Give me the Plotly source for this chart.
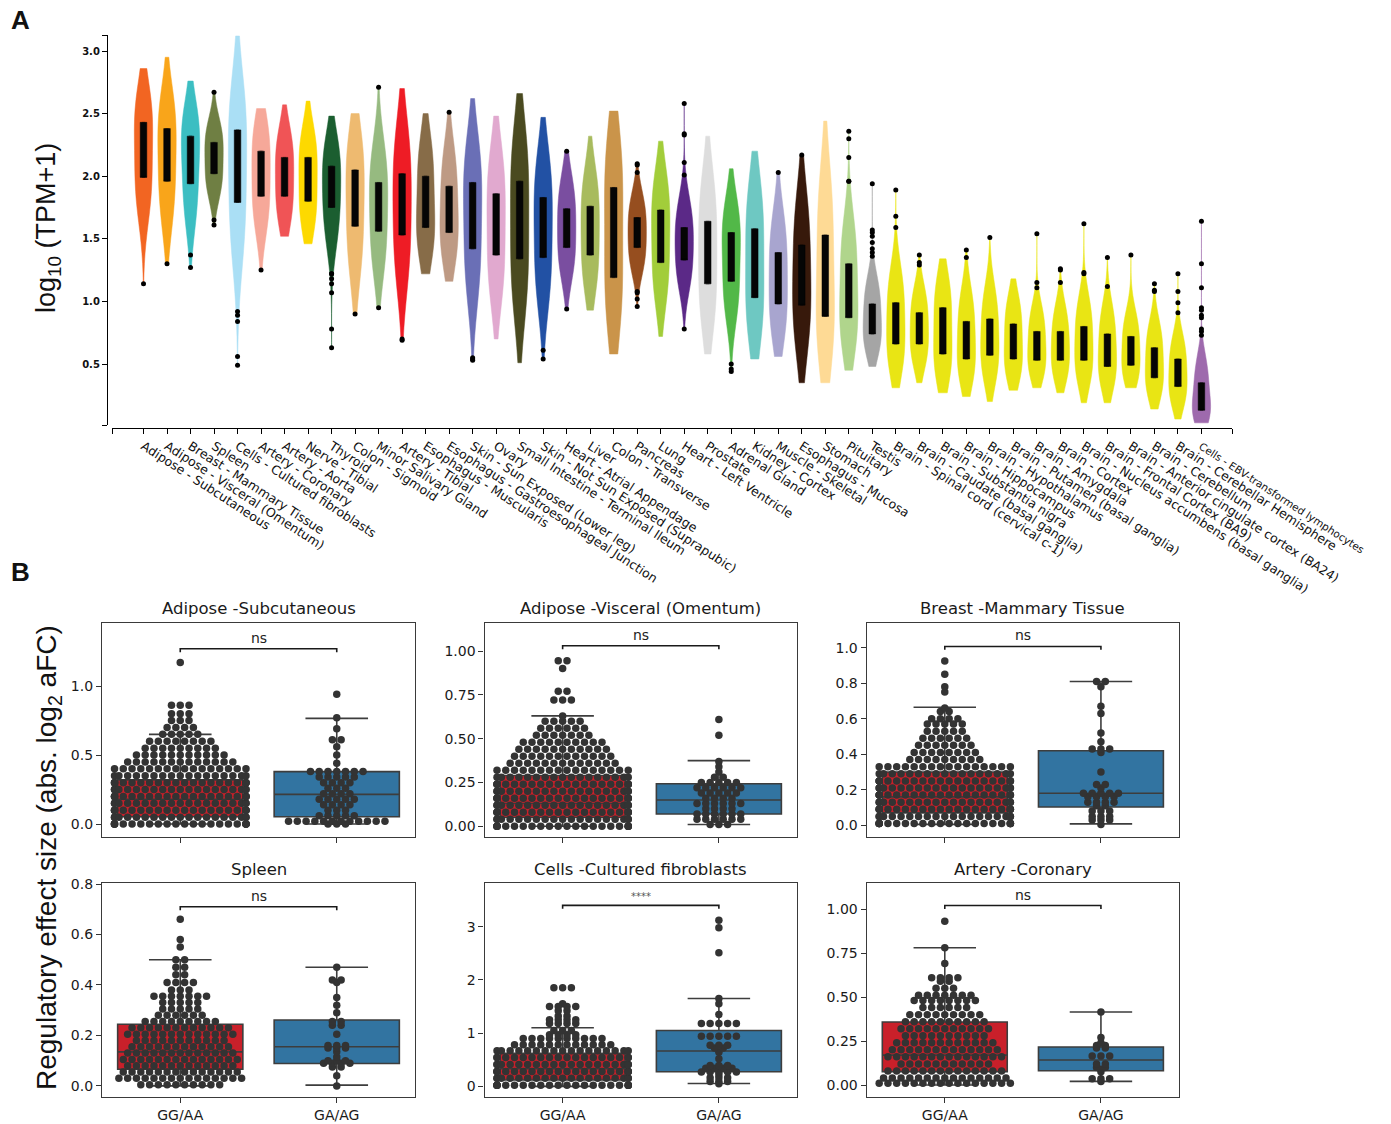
import numpy as np
import plotly.graph_objects as go

W, H = 1391, 1124

# ---------------- Panel A data ----------------
tissues = [
    "Adipose - Subcutaneous", "Adipose - Visceral (Omentum)", "Breast - Mammary Tissue", "Spleen",
    "Cells - Cultured fibroblasts", "Artery - Coronary", "Artery - Aorta", "Nerve - Tibial", "Thyroid",
    "Colon - Sigmoid", "Minor Salivary Gland", "Artery - Tibial", "Esophagus - Muscularis",
    "Esophagus - Gastroesophageal Junction", "Skin - Sun Exposed (Lower leg)", "Ovary",
    "Small Intestine - Terminal Ileum", "Skin - Not Sun Exposed (Suprapubic)", "Heart - Atrial Appendage",
    "Liver", "Colon - Transverse", "Pancreas", "Lung", "Heart - Left Ventricle", "Prostate",
    "Adrenal Gland", "Kidney - Cortex", "Muscle - Skeletal", "Esophagus - Mucosa", "Stomach",
    "Pituitary", "Testis", "Brain - Spinal cord (cervical c-1)", "Brain - Caudate (basal ganglia)",
    "Brain - Substantia nigra", "Brain - Hippocampus", "Brain - Hypothalamus",
    "Brain - Putamen (basal ganglia)", "Brain - Amygdala", "Brain - Cortex",
    "Brain - Nucleus accumbens (basal ganglia)", "Brain - Frontal Cortex (BA9)",
    "Brain - Anterior cingulate cortex (BA24)", "Brain - Cerebellum", "Brain - Cerebellar Hemisphere",
    "Cells - EBV-transformed lymphocytes",
]

tissue_colors = [
    "#F26522", "#F9A51A", "#3CBEC2", "#6F7F43", "#AADFF5", "#F6A899", "#F05456", "#FDD900",
    "#1B5E30", "#EEBA70", "#96BA80", "#EE1C25", "#876C48", "#BE9A84", "#6A6FB6", "#E1A9CF",
    "#4A4A20", "#2251A4", "#7A4EA0", "#A8BB5E", "#CA944A", "#964E1F", "#A2CD3A", "#5B2987",
    "#DDDDDD", "#52B848", "#6EC8C2", "#A8A5CF", "#37190B", "#FEDA95", "#B0D58C", "#A5A5A5",
    "#E9E514", "#E9E514", "#E9E514", "#E9E514", "#E9E514", "#E9E514", "#E9E514", "#E9E514",
    "#E9E514", "#E9E514", "#E9E514", "#E9E514", "#E9E514", "#9E6AAD",
]

# estimated quantiles of log10(TPM+1) per tissue (read from violin shapes)
tissue_samples = [
    [1.70, 1.90, 1.99, 2.22, 2.43, 2.52, 2.64],
    [1.62, 1.85, 1.96, 2.18, 2.38, 2.48, 2.62],
    [1.62, 1.84, 1.94, 2.18, 2.32, 2.40, 2.52],
    [1.85, 1.96, 2.02, 2.15, 2.27, 2.32, 2.42],
    [1.35, 1.65, 1.79, 2.10, 2.37, 2.48, 2.70],
    [1.58, 1.75, 1.84, 2.02, 2.20, 2.30, 2.42],
    [1.62, 1.76, 1.84, 2.00, 2.15, 2.22, 2.35],
    [1.58, 1.72, 1.80, 1.98, 2.15, 2.22, 2.35],
    [1.45, 1.65, 1.75, 1.90, 2.08, 2.15, 2.28],
    [1.22, 1.45, 1.60, 1.82, 2.05, 2.15, 2.32],
    [1.25, 1.45, 1.56, 1.80, 1.95, 2.05, 2.25],
    [1.15, 1.40, 1.53, 1.80, 2.02, 2.15, 2.38],
    [1.38, 1.50, 1.59, 1.75, 2.00, 2.10, 2.28],
    [1.32, 1.46, 1.55, 1.70, 1.92, 2.02, 2.22],
    [1.05, 1.30, 1.42, 1.72, 1.95, 2.05, 2.25],
    [1.05, 1.25, 1.37, 1.65, 1.86, 1.98, 2.18],
    [0.95, 1.20, 1.34, 1.65, 1.96, 2.10, 2.32],
    [1.00, 1.22, 1.35, 1.62, 1.83, 1.95, 2.15],
    [1.22, 1.35, 1.43, 1.60, 1.74, 1.82, 1.98],
    [1.10, 1.28, 1.37, 1.58, 1.76, 1.85, 2.02],
    [0.85, 1.05, 1.19, 1.58, 1.91, 2.05, 2.28],
    [1.25, 1.36, 1.43, 1.55, 1.67, 1.72, 1.85],
    [1.02, 1.20, 1.31, 1.55, 1.73, 1.82, 2.00],
    [1.12, 1.25, 1.33, 1.48, 1.59, 1.66, 1.82],
    [0.82, 1.02, 1.14, 1.40, 1.64, 1.75, 1.98],
    [0.90, 1.06, 1.16, 1.40, 1.55, 1.62, 1.78],
    [0.75, 0.92, 1.03, 1.32, 1.58, 1.70, 1.92],
    [0.72, 0.88, 0.98, 1.18, 1.39, 1.48, 1.68],
    [0.62, 0.85, 0.97, 1.15, 1.45, 1.58, 1.82],
    [0.58, 0.76, 0.88, 1.15, 1.53, 1.70, 1.98],
    [0.62, 0.78, 0.87, 1.05, 1.30, 1.42, 1.62],
    [0.60, 0.68, 0.74, 0.85, 0.98, 1.05, 1.18],
    [0.45, 0.58, 0.66, 0.82, 0.99, 1.08, 1.25],
    [0.50, 0.60, 0.66, 0.78, 0.91, 0.97, 1.10],
    [0.40, 0.50, 0.58, 0.76, 0.95, 1.03, 1.18],
    [0.37, 0.47, 0.54, 0.68, 0.84, 0.92, 1.08],
    [0.38, 0.50, 0.57, 0.70, 0.86, 0.94, 1.10],
    [0.40, 0.48, 0.54, 0.68, 0.82, 0.90, 1.02],
    [0.40, 0.48, 0.53, 0.64, 0.76, 0.83, 0.95],
    [0.38, 0.47, 0.53, 0.64, 0.76, 0.83, 0.96],
    [0.36, 0.46, 0.53, 0.66, 0.80, 0.88, 1.02],
    [0.33, 0.42, 0.48, 0.60, 0.74, 0.82, 0.96],
    [0.36, 0.44, 0.49, 0.60, 0.72, 0.78, 0.90],
    [0.25, 0.33, 0.39, 0.50, 0.63, 0.70, 0.82],
    [0.18, 0.26, 0.32, 0.42, 0.54, 0.60, 0.72],
    [0.06, 0.10, 0.13, 0.22, 0.35, 0.42, 0.55],
]

# violin extent (bottom tip, top tip)
tissue_spans = [
    [1.14, 2.86], [1.30, 2.95], [1.27, 2.76], [1.61, 2.67], [0.49, 3.12], [1.25, 2.54],
    [1.52, 2.57], [1.46, 2.60], [0.63, 2.48], [0.90, 2.50], [0.95, 2.71], [0.69, 2.70],
    [1.22, 2.50], [1.16, 2.51], [0.53, 2.62], [0.70, 2.48], [0.51, 2.66], [0.54, 2.47],
    [0.94, 2.20], [0.93, 2.32], [0.58, 2.52], [0.96, 2.10], [0.72, 2.28], [0.78, 2.58],
    [0.58, 2.32], [0.44, 2.06], [0.54, 2.20], [0.56, 2.03], [0.35, 2.17], [0.35, 2.44],
    [0.45, 2.36], [0.48, 1.94], [0.31, 1.89], [0.35, 1.37], [0.27, 1.34], [0.24, 1.41],
    [0.20, 1.51], [0.29, 1.18], [0.31, 1.54], [0.27, 1.26], [0.19, 1.62], [0.19, 1.35],
    [0.31, 1.37], [0.14, 1.14], [0.06, 1.22], [0.03, 1.64],
]

tissue_q1 = [1.99, 1.96, 1.94, 2.02, 1.79, 1.84, 1.84, 1.80, 1.75, 1.60, 1.56, 1.53, 1.59, 1.55,
             1.42, 1.37, 1.34, 1.35, 1.43, 1.37, 1.19, 1.43, 1.31, 1.33, 1.14, 1.16, 1.03, 0.98,
             0.97, 0.88, 0.87, 0.74, 0.66, 0.66, 0.58, 0.54, 0.57, 0.54, 0.53, 0.53, 0.53, 0.48,
             0.49, 0.39, 0.32, 0.13]
tissue_q3 = [2.43, 2.38, 2.32, 2.27, 2.37, 2.20, 2.15, 2.15, 2.08, 2.05, 1.95, 2.02, 2.00, 1.92,
             1.95, 1.86, 1.96, 1.83, 1.74, 1.76, 1.91, 1.67, 1.73, 1.59, 1.64, 1.55, 1.58, 1.39,
             1.45, 1.53, 1.30, 0.98, 0.99, 0.91, 0.95, 0.84, 0.86, 0.82, 0.76, 0.76, 0.80, 0.74,
             0.72, 0.63, 0.54, 0.35]

tissue_outliers = [
    [1.14], [1.30], [1.37, 1.27], [2.67, 1.65, 1.61], [0.92, 0.89, 0.84, 0.56, 0.49], [1.25],
    [], [], [1.22, 1.22, 1.18, 1.14, 1.07, 0.78, 0.63], [0.90], [2.71, 0.95], [0.70, 0.69],
    [], [2.51], [0.55, 0.54, 0.53], [], [], [0.61, 0.54], [2.20, 0.94], [], [],
    [2.10, 2.09, 2.03, 1.08, 1.07, 1.02, 0.96], [], [2.58, 2.34, 2.33, 2.11, 2.01, 0.78], [],
    [0.50, 0.46, 0.44], [], [2.03], [2.17], [], [2.36, 2.30, 2.15, 1.96, 1.96],
    [1.94, 1.57, 1.55, 1.52, 1.47, 1.42, 1.39, 1.36], [1.89, 1.68, 1.59], [1.37, 1.31, 1.29],
    [], [1.41, 1.35], [1.51], [], [1.54, 1.15, 1.11], [1.26, 1.25, 1.15], [1.62, 1.23, 1.22],
    [1.35, 1.12], [1.37], [1.14, 1.09, 1.08], [1.22, 1.08, 0.99, 0.91],
    [1.64, 1.30, 1.11, 0.95, 0.93, 0.89, 0.87, 0.78, 0.76, 0.73],
]

a_yticks = [0.5, 1.0, 1.5, 2.0, 2.5, 3.0]

# ---------------- Panel B data ----------------
b_titles = ["Adipose -Subcutaneous", "Adipose -Visceral (Omentum)", "Breast -Mammary Tissue",
            "Spleen", "Cells -Cultured fibroblasts", "Artery -Coronary"]
genotypes = ["GG/AA", "GA/AG"]
b_sig = ["ns", "ns", "ns", "ns", "****", "ns"]
b_bracket = [1.27, 1.03, 1.007, 0.71, 3.40, 1.02]

b_q1 = [[0.053, 0.053], [0.05, 0.07], [0.07, 0.103], [0.066, 0.089], [0.12, 0.275], [0.076, 0.081]]
b_med = [[0.18, 0.215], [0.13, 0.15], [0.16, 0.18], [0.135, 0.155], [0.33, 0.665], [0.17, 0.142]]
b_q3 = [[0.32, 0.38], [0.29, 0.243], [0.30, 0.42], [0.244, 0.261], [0.62, 1.05], [0.358, 0.216]]
b_lo = [[0.0, 0.0], [0.0, 0.01], [0.005, 0.008], [0.0, 0.003], [0.0, 0.055], [0.0, 0.021]]
b_hi = [[0.65, 0.766], [0.63, 0.375], [0.665, 0.81], [0.50, 0.47], [1.10, 1.65], [0.78, 0.415]]

# swarm rows: effect-size values and number of variants at each value
swarm_vals = [
    [[0.00, 0.05, 0.10, 0.15, 0.20, 0.25, 0.30, 0.35, 0.40, 0.45, 0.50, 0.55, 0.60, 0.65, 0.70, 0.75, 0.80, 0.86, 1.17],
     [0.00, 0.02, 0.06, 0.10, 0.14, 0.18, 0.22, 0.26, 0.30, 0.34, 0.38, 0.44, 0.50, 0.56, 0.61, 0.69, 0.77, 0.94]],
    [[0.00, 0.04, 0.08, 0.12, 0.16, 0.20, 0.24, 0.28, 0.32, 0.36, 0.40, 0.44, 0.48, 0.52, 0.56, 0.60, 0.63, 0.72, 0.77, 0.90, 0.945],
     [0.01, 0.04, 0.07, 0.10, 0.13, 0.16, 0.19, 0.22, 0.25, 0.28, 0.31, 0.34, 0.37, 0.52, 0.61]],
    [[0.01, 0.05, 0.09, 0.13, 0.17, 0.21, 0.25, 0.29, 0.33, 0.37, 0.41, 0.45, 0.49, 0.53, 0.57, 0.60, 0.64, 0.66, 0.75, 0.78, 0.85, 0.925],
     [0.005, 0.03, 0.05, 0.08, 0.11, 0.13, 0.16, 0.18, 0.21, 0.23, 0.30, 0.41, 0.43, 0.47, 0.52, 0.63, 0.67, 0.78, 0.81]],
    [[0.005, 0.03, 0.055, 0.08, 0.105, 0.13, 0.155, 0.18, 0.205, 0.23, 0.255, 0.28, 0.305, 0.33, 0.355, 0.38, 0.41, 0.44, 0.47, 0.50, 0.55, 0.58, 0.66],
     [0.0, 0.04, 0.075, 0.09, 0.10, 0.115, 0.135, 0.15, 0.16, 0.205, 0.24, 0.255, 0.29, 0.32, 0.35, 0.41, 0.42, 0.47]],
    [[0.02, 0.15, 0.28, 0.41, 0.54, 0.67, 0.78, 0.90, 0.97, 1.05, 1.18, 1.25, 1.32, 1.42, 1.50, 1.55, 1.85],
     [0.05, 0.09, 0.16, 0.22, 0.27, 0.34, 0.39, 0.52, 0.64, 0.72, 0.77, 0.94, 1.18, 1.35, 1.55, 1.65, 2.51, 2.98, 3.12]],
    [[0.01, 0.04, 0.08, 0.12, 0.16, 0.20, 0.24, 0.28, 0.32, 0.36, 0.40, 0.44, 0.48, 0.51, 0.55, 0.59, 0.61, 0.69, 0.78, 0.93],
     [0.02, 0.035, 0.075, 0.09, 0.10, 0.12, 0.165, 0.21, 0.225, 0.24, 0.27, 0.415]],
]
swarm_counts = [
    [[22, 19, 20, 19, 20, 19, 20, 17, 16, 13, 11, 9, 8, 5, 4, 3, 3, 3, 1],
     [3, 12, 5, 3, 4, 5, 4, 3, 4, 5, 7, 1, 1, 1, 2, 1, 1, 1]],
    [[22, 19, 20, 19, 20, 19, 20, 17, 16, 13, 12, 11, 10, 7, 6, 5, 1, 3, 2, 1, 2],
     [3, 6, 6, 4, 6, 4, 5, 6, 5, 2, 1, 1, 1, 1, 1]],
    [[22, 19, 20, 19, 20, 19, 20, 17, 16, 9, 8, 7, 6, 5, 5, 4, 2, 1, 1, 1, 1, 1],
     [1, 3, 3, 3, 2, 4, 4, 5, 1, 2, 1, 1, 3, 1, 1, 1, 1, 1, 2]],
    [[10, 15, 14, 13, 14, 13, 12, 11, 13, 12, 9, 6, 5, 5, 7, 3, 4, 2, 2, 2, 1, 1, 1],
     [1, 1, 2, 4, 3, 1, 1, 3, 3, 1, 2, 2, 1, 1, 1, 1, 2, 1]],
    [[22, 19, 20, 19, 18, 17, 12, 10, 4, 3, 4, 4, 2, 2, 4, 1, 3],
     [1, 3, 3, 1, 5, 4, 3, 1, 1, 2, 3, 5, 5, 1, 1, 1, 1, 1, 1]],
    [[16, 15, 14, 11, 14, 13, 12, 10, 11, 10, 9, 6, 8, 7, 3, 2, 4, 1, 1, 1],
     [1, 3, 1, 1, 2, 2, 3, 2, 2, 1, 1, 1]],
]

b_yranges = [[-0.094, 1.457], [-0.061, 1.16], [-0.066, 1.139], [-0.044, 0.804], [-0.2, 3.82], [-0.068, 1.148]]
b_yticks = [[0.0, 0.5, 1.0], [0.0, 0.25, 0.5, 0.75, 1.0], [0.0, 0.2, 0.4, 0.6, 0.8, 1.0],
            [0.0, 0.2, 0.4, 0.6, 0.8], [0, 1, 2, 3], [0.0, 0.25, 0.5, 0.75, 1.0]]
b_yfmt = [".1f", ".2f", ".1f", ".1f", "d", ".2f"]
b_box_colors = ["#C9202A", "#3274A1"]

# ---------------- helpers ----------------
def px_x(px):
    return px / W

def px_y(py):
    return 1 - py / H

fig = go.Figure()

# ---------- Panel A ----------
for i in range(len(tissues)):
    s = tissue_samples[i]
    fig.add_trace(go.Violin(
        x=[i] * len(s), y=s, xaxis="x", yaxis="y", name=tissues[i],
        spanmode="manual", span=tissue_spans[i],
        fillcolor=tissue_colors[i], line=dict(color=tissue_colors[i], width=0.5),
        points=False, width=0.78, scalemode="width", orientation="v",
        box_visible=False, meanline_visible=False, hoverinfo="skip", opacity=1,
    ))

fig.add_trace(go.Box(
    x=list(range(len(tissues))), q1=tissue_q1, median=tissue_q1, q3=tissue_q3,
    lowerfence=tissue_q1, upperfence=tissue_q3, orientation="v",
    fillcolor="#050505", line=dict(color="#050505", width=0.5), width=0.28,
    boxpoints=False, xaxis="x", yaxis="y", hoverinfo="skip",
))

ox, oy = [], []
for i, outs in enumerate(tissue_outliers):
    ox += [i] * len(outs)
    oy += outs
fig.add_trace(go.Scatter(x=ox, y=oy, mode="markers", xaxis="x", yaxis="y",
                         marker=dict(size=5, color="black"), hoverinfo="skip"))

a_ylo = 3.0 - (425 - 51) / 125.2
a_yhi = 3.0 - (35 - 51) / 125.2
a_xlo, a_xhi = -1.34, 46.3

a_ticktext = list(tissues)
a_ticktext[-1] = '<span style="font-size:10.5px">' + tissues[-1] + '</span>'

layout = dict(
    width=W, height=H, margin=dict(l=0, r=0, t=0, b=0, autoexpand=False),
    paper_bgcolor="white", plot_bgcolor="white", showlegend=False,
    violinmode="overlay", boxmode="overlay",
    font=dict(family="DejaVu Sans", color="#111111"),
)
layout["xaxis"] = dict(
    domain=[px_x(112), px_x(1232)], anchor="free", position=px_y(428),
    range=[a_xlo, a_xhi], tickmode="array",
    tickvals=list(range(len(tissues))), ticktext=a_ticktext, tickangle=33,
    ticks="outside", ticklen=5, tickcolor="black", tickwidth=1,
    minor=dict(tickmode="array", tickvals=[a_xlo, a_xhi], ticks="outside", ticklen=5,
               tickcolor="black", tickwidth=1, showgrid=False),
    showline=True, linecolor="black", linewidth=1.3,
    showgrid=False, zeroline=False, automargin=False,
    tickfont=dict(family="DejaVu Sans", size=12.5, color="#111111"),
)
layout["yaxis"] = dict(
    domain=[px_y(425), px_y(35)], anchor="free", position=px_x(107),
    range=[a_ylo, a_yhi], tickmode="array",
    tickvals=a_yticks, ticktext=["%.1f" % v for v in a_yticks],
    ticks="outside", ticklen=5, tickcolor="black", tickwidth=1,
    minor=dict(tickmode="array", tickvals=[a_ylo, a_yhi], ticks="outside", ticklen=5,
               tickcolor="black", tickwidth=1, showgrid=False),
    showline=True, linecolor="black", linewidth=1.3,
    showgrid=False, zeroline=False, automargin=False,
    tickfont=dict(family="DejaVu Sans", size=10, color="#111111", weight="bold"),
)

# ---------- Panel B ----------
col_px = [[102, 415], [484.5, 797], [866.7, 1179]]
row_px = [[623, 837], [883, 1097]]
dx = 0.056

annotations = []
for k in range(6):
    r, c = divmod(k, 3)
    n = k + 2
    xa, ya = "x%d" % n, "y%d" % n
    for g in range(2):
        fig.add_trace(go.Box(
            x=[g], q1=[b_q1[k][g]], median=[b_med[k][g]], q3=[b_q3[k][g]],
            lowerfence=[b_lo[k][g]], upperfence=[b_hi[k][g]], orientation="v",
            fillcolor=b_box_colors[g], line=dict(color="#3d3d3d", width=1.6),
            width=0.8, whiskerwidth=0.5, boxpoints=False, xaxis=xa, yaxis=ya,
            hoverinfo="skip",
        ))
    sx, sy = [], []
    for g in range(2):
        for v, cnt in zip(swarm_vals[k][g], swarm_counts[k][g]):
            offs = (np.arange(cnt) - (cnt - 1) / 2.0) * dx
            offs = np.clip(offs, -0.42, 0.42)
            sx += list(g + offs)
            sy += [v] * cnt
    fig.add_trace(go.Scatter(x=sx, y=sy, mode="markers", xaxis=xa, yaxis=ya,
                             marker=dict(size=7.5, color="#333333"), hoverinfo="skip"))
    # significance bracket
    yr = b_yranges[k]
    d = 0.016 * (yr[1] - yr[0])
    hb = b_bracket[k]
    fig.add_trace(go.Scatter(x=[0, 0, 1, 1], y=[hb - d, hb, hb, hb - d], mode="lines",
                             xaxis=xa, yaxis=ya, line=dict(color="#1a1a1a", width=1.6),
                             hoverinfo="skip"))
    sig_font = dict(family="DejaVu Sans", size=14, color="#222222") if b_sig[k] == "ns" \
        else dict(family="DejaVu Sans", size=10, color="#555555")
    annotations.append(dict(x=0.5, y=hb, xref=xa, yref=ya, text=b_sig[k], showarrow=False,
                            xanchor="center", yanchor="bottom", yshift=1, font=sig_font))
    # title
    annotations.append(dict(x=(col_px[c][0] + col_px[c][1]) / 2 / W, y=px_y(row_px[r][0] - 14),
                            xref="paper", yref="paper", text=b_titles[k], showarrow=False,
                            xanchor="center", yanchor="middle",
                            font=dict(family="DejaVu Sans", size=16.5, color="#1a1a1a")))

    layout["xaxis%d" % n] = dict(
        domain=[px_x(col_px[c][0]), px_x(col_px[c][1])], anchor=ya,
        range=[-0.5, 1.5], tickmode="array", tickvals=[0, 1], ticktext=genotypes,
        showticklabels=(r == 1), ticks="outside", ticklen=5, tickcolor="#333333",
        showline=True, mirror=True, linecolor="#3a3a3a", linewidth=1.3,
        showgrid=False, zeroline=False, automargin=False,
        tickfont=dict(family="DejaVu Sans", size=14, color="#1a1a1a"),
    )
    layout["yaxis%d" % n] = dict(
        domain=[px_y(row_px[r][1]), px_y(row_px[r][0])], anchor=xa,
        range=yr, tickmode="array", tickvals=b_yticks[k], tickformat=b_yfmt[k],
        ticks="outside", ticklen=5, tickcolor="#333333",
        showline=True, mirror=True, linecolor="#3a3a3a", linewidth=1.3,
        showgrid=False, zeroline=False, automargin=False,
        tickfont=dict(family="DejaVu Sans", size=14, color="#1a1a1a"),
    )

# panel letters and big axis titles
annotations += [
    dict(x=px_x(20), y=px_y(20), xref="paper", yref="paper", text="<b>A</b>", showarrow=False,
         xanchor="center", yanchor="middle",
         font=dict(family="Liberation Sans", size=26, color="#111111")),
    dict(x=px_x(20), y=px_y(572), xref="paper", yref="paper", text="<b>B</b>", showarrow=False,
         xanchor="center", yanchor="middle",
         font=dict(family="Liberation Sans", size=26, color="#111111")),
    dict(x=px_x(48), y=px_y(228), xref="paper", yref="paper", text="log<sub>10</sub> (TPM+1)",
         textangle=-90, showarrow=False, xanchor="center", yanchor="middle",
         font=dict(family="Liberation Sans", size=27, color="#111111")),
    dict(x=px_x(48), y=px_y(858), xref="paper", yref="paper",
         text="Regulatory effect size (abs. log<sub>2</sub> aFC)",
         textangle=-90, showarrow=False, xanchor="center", yanchor="middle",
         font=dict(family="Liberation Sans", size=28, color="#111111")),
]
layout["annotations"] = annotations

fig.update_layout(**layout)
fig.write_html("out.html")
